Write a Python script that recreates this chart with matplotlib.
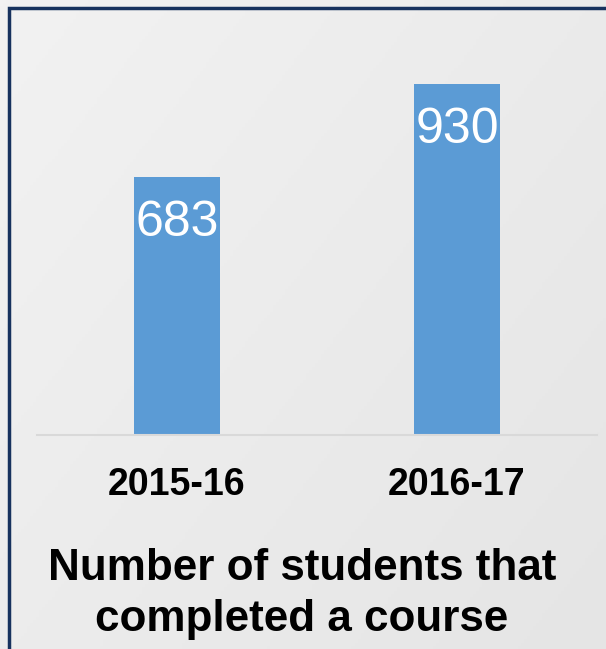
import numpy as np
import matplotlib
matplotlib.use("Agg")
import matplotlib.pyplot as plt
from matplotlib.patches import Rectangle

# --- DATA ---
years = ["2015-16", "2016-17"]
students = [683, 930]
title = "Number of students that\ncompleted a course"
# ------------

W, H = 606, 649
plt.rcParams['font.family'] = ['Liberation Sans', 'DejaVu Sans']

fig = plt.figure(figsize=(W / 100, H / 100), dpi=100)

# soft grey gradient background
bg = fig.add_axes([0, 0, 1, 1], zorder=-10)
yy, xx = np.mgrid[0:1:200j, 0:1:200j]
grad = 0.55 * xx + 0.45 * yy
bg.imshow(grad, cmap=matplotlib.colors.LinearSegmentedColormap.from_list(
    "bg", ["#f2f2f2", "#e5e5e5"]), extent=[0, 1, 0, 1], aspect='auto', origin='upper')
bg.axis('off')

# navy frame, clipped at right and bottom
fig.patches.append(Rectangle((8.5 / W, -0.1), 1.2, 1 - 8 / H + 0.1, transform=fig.transFigure,
                             fill=False, edgecolor="#17325e", linewidth=2.5))

# main chart axes: baseline at y=435 px, x from 37 to 597 px
base = 1 - 435 / H
scale = 258 / 683  # px per student
ax = fig.add_axes([37 / W, base, 560 / W, 1000 * scale / H])
ax.patch.set_alpha(0)
x = np.arange(len(years))
bars = ax.bar(x, students, width=0.31, color="#5b9bd5", zorder=2)
ax.set_xlim(-0.5, 1.5)
ax.set_ylim(0, 1000)

for b, v in zip(bars, students):
    ax.text(b.get_x() + b.get_width() / 2, v - 122, str(v), ha='center', va='center',
            color='white', fontsize=36, zorder=3)

for s in ['top', 'right', 'left']:
    ax.spines[s].set_visible(False)
ax.spines['bottom'].set_color('#d9d9d9')
ax.spines['bottom'].set_linewidth(1.5)
ax.set_yticks([])
ax.set_xticks(x)
ax.set_xticklabels(years, fontsize=27, fontweight='bold', color='black')
ax.tick_params(axis='x', length=0, pad=23)

fig.text(302 / W, 1 - 594 / H, title, ha='center', va='center', fontsize=31.7,
         fontweight='bold', color='black', linespacing=1.3)

fig.savefig("out.png", dpi=100)
